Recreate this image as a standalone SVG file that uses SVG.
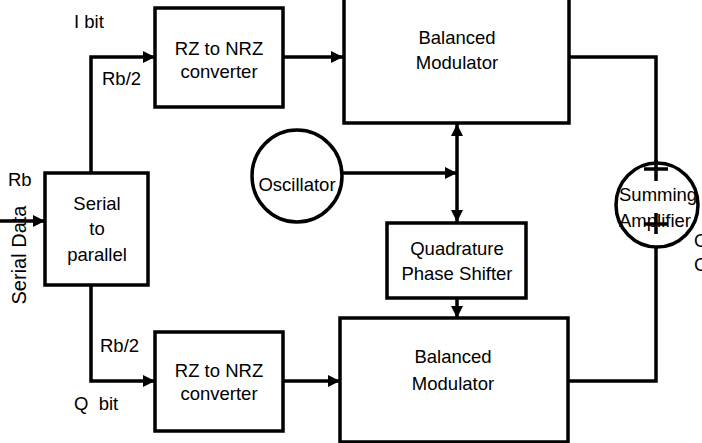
<svg xmlns="http://www.w3.org/2000/svg" width="702" height="443" viewBox="0 0 702 443">
<defs>
<style>
.box{fill:#fff;stroke:#000;stroke-width:3.5}
.circ{fill:#fff;stroke:#000;stroke-width:3.5}
.ln{fill:none;stroke:#000;stroke-width:3.5}
text{font-family:"Liberation Sans",Arial,sans-serif;font-size:18.5px;fill:#000}
.c{text-anchor:middle}
</style>
<marker id="ah" viewBox="0 0 12 12" refX="12" refY="6" markerWidth="12" markerHeight="12" markerUnits="userSpaceOnUse" orient="auto-start-reverse">
<path d="M0,0 L12,6 L0,12 Z" fill="#000"/>
</marker>
</defs>
<rect width="702" height="443" fill="#fff"/>
<g id="connectors">
<path class="ln" d="M0,221 H45" marker-end="url(#ah)"/>
<path class="ln" d="M91,173 V57 H155" marker-end="url(#ah)"/>
<path class="ln" d="M91,285 V381 H155" marker-end="url(#ah)"/>
<path class="ln" d="M283,57 H343" marker-end="url(#ah)"/>
<path class="ln" d="M283,381 H340" marker-end="url(#ah)"/>
<path class="ln" d="M343,173 H457" marker-end="url(#ah)"/>
<path class="ln" d="M457,124 V222" marker-start="url(#ah)" marker-end="url(#ah)"/>
<path class="ln" d="M457,298 V318" marker-end="url(#ah)"/>
<path class="ln" d="M567,57 H656 V181"/>
<path class="ln" d="M568,381 H656 V213"/>
</g>
<g id="serial">
<rect class="box" x="45" y="173" width="103" height="112"/>
<text class="c" x="97" y="210">Serial</text>
<text class="c" x="97" y="235">to</text>
<text class="c" x="97" y="261">parallel</text>
</g>
<g id="rz_top">
<rect class="box" x="155" y="8" width="128" height="99"/>
<text class="c" x="219" y="55">RZ to NRZ</text>
<text class="c" x="219" y="78">converter</text>
</g>
<g id="rz_bottom">
<rect class="box" x="155" y="332" width="128" height="99"/>
<text class="c" x="219" y="377">RZ to NRZ</text>
<text class="c" x="219" y="400">converter</text>
</g>
<g id="mod_top">
<rect class="box" x="344" y="-2" width="225" height="125"/>
<text class="c" x="457" y="44">Balanced</text>
<text class="c" x="457" y="69">Modulator</text>
</g>
<g id="mod_bottom">
<rect class="box" x="340" y="318" width="228" height="124"/>
<text class="c" x="453" y="363">Balanced</text>
<text class="c" x="453" y="390">Modulator</text>
</g>
<g id="oscillator">
<ellipse class="circ" cx="297" cy="176" rx="45" ry="46"/>
<text class="c" x="297" y="191">Oscillator</text>
</g>
<g id="quadrature">
<rect class="box" x="387" y="223" width="139" height="75"/>
<text class="c" x="457" y="255">Quadrature</text>
<text class="c" x="457" y="280">Phase Shifter</text>
</g>
<g id="summing">
<ellipse class="circ" cx="657" cy="205" rx="41" ry="42"/>
<path class="ln" d="M656,160 V181 M644,169 H668 M656,213 V234 M644,224 H668"/>
<text x="619" y="201">Summing</text>
<text x="619" y="227">Amplifier</text>
</g>
<g id="labels">
<text x="74" y="28">I bit</text>
<text x="102" y="85">Rb/2</text>
<text x="8" y="186">Rb</text>
<text transform="translate(26,255) rotate(-90)" class="c" style="font-size:20px">Serial Data</text>
<text x="100" y="352">Rb/2</text>
<text x="74" y="410" xml:space="preserve">Q  bit</text>
<text x="694" y="247">O</text>
<text x="694" y="271">C</text>
</g>
</svg>
